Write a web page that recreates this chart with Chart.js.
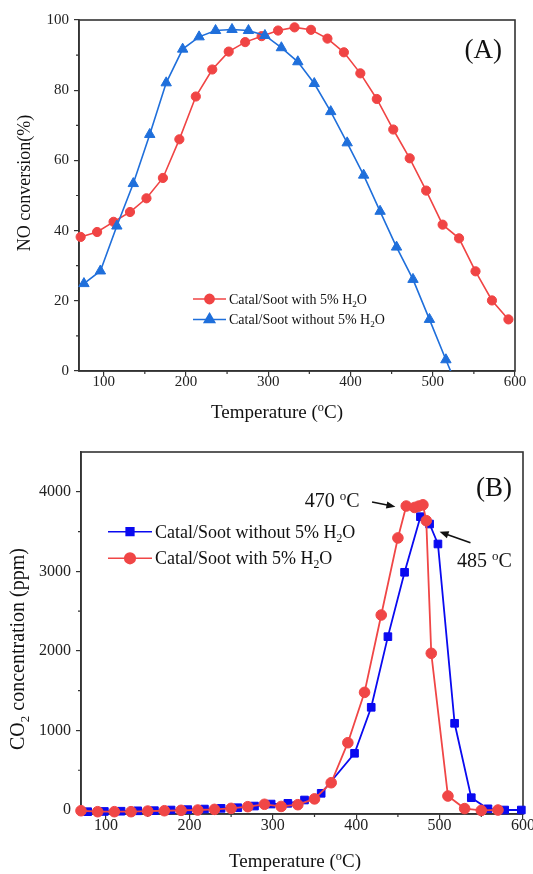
<!DOCTYPE html>
<html><head><meta charset="utf-8">
<script src="https://cdn.jsdelivr.net/npm/chart.js@4/dist/chart.umd.min.js"></script>
<style>
html,body{margin:0;padding:0;background:#fff;}
#wrap{position:relative;width:533px;height:874px;overflow:hidden;}
canvas{display:block;position:absolute;left:0;}
</style></head><body>
<div id="wrap">
<canvas id="cA" width="533" height="437" style="top:0"></canvas>
<canvas id="cB" width="533" height="437" style="top:437px"></canvas>
</div>
<script>
// ---------- DATA (A): NO conversion ----------
const tempWithA    = [72,92,112,132,152,172,192,212,232,252,272,292,312,332,352,372,392,412,432,452,472,492,512,532,552,572,592];
const convWithA    = [38.2,39.6,42.5,45.3,49.2,55.0,66.0,78.2,85.9,91.0,93.7,95.4,97.0,97.9,97.2,94.7,90.8,84.8,77.5,68.8,60.6,51.4,41.7,37.8,28.4,20.1,14.7];
const tempWithoutA = [76,96,116,136,156,176,196,216,236,256,276,296,316,336,356,376,396,416,436,456,476,496,516,536];
const convWithoutA = [24.9,28.5,41.3,53.4,67.4,82.1,91.7,95.2,97.0,97.3,97.0,95.6,92.1,88.1,81.9,73.9,65.0,55.8,45.5,35.3,26.1,14.7,3.2,-8];
const xTicksA = [100,200,300,400,500,600];
const xMinorA = [150,250,350,450,550];
const yTicksA = [0,20,40,60,80,100];
const yMinorA = [10,30,50,70,90];

// ---------- DATA (B): CO2 concentration ----------
const tempWithB    = [70,90,110,130,150,170,190,210,230,250,270,290,310,330,350,370,390,410,430,450,460,470,475,480,484,490,510,530,550,570];
const co2WithB     = [-9,-21,-21,-21,-13,-9,-4,0,8,21,42,72,45,67,140,343,846,1479,2451,3420,3821,3803,3820,3836,3637,1970,176,18,-5,0];
const tempWithoutB = [78,98,118,138,158,178,198,218,238,258,278,298,318,338,358,398,418,438,458,477,488,498,518,538,558,578,598];
const co2WithoutB  = [-21,-18,-15,-10,-8,0,5,12,21,29,50,75,84,126,210,713,1291,2179,2988,3687,3595,3344,1090,155,15,0,0];
const xTicksB = [100,200,300,400,500,600];
const xMinorB = [150,250,350,450,550];
const yTicksB = [0,1000,2000,3000,4000];
const yMinorB = [500,1500,2500,3500];

// annotation anchors (data units)
const peakNotes = [
  {text:'470', tx:404, ty:3888, align:'right', from:[419,3872], to:[447,3812]},
  {text:'485', tx:521, ty:3134, align:'left',  from:[537,3360], to:[500,3498]}
];

// ---------- helpers ----------
const SERIF = '"Liberation Serif","Times New Roman",Times,serif';
const AX = '#333';
Chart.defaults.font.family = SERIF;

function richWidth(ctx, parts, size){
  let w = 0;
  for (const p of parts){ ctx.font = ((p.sup||p.sub)? size*0.65 : size) + 'px ' + SERIF; w += ctx.measureText(p.t).width; }
  return w;
}
function drawRich(ctx, parts, x, y, size, align, color){
  ctx.save();
  ctx.fillStyle = color || '#111';
  ctx.textBaseline = 'alphabetic';
  ctx.textAlign = 'left';
  const w = richWidth(ctx, parts, size);
  let cx = align==='center' ? x - w/2 : (align==='right' ? x - w : x);
  for (const p of parts){
    const fs = (p.sup||p.sub) ? size*0.65 : size;
    ctx.font = fs + 'px ' + SERIF;
    const dy = p.sup ? -size*0.38 : (p.sub ? size*0.22 : 0);
    ctx.fillText(p.t, cx, y + dy);
    cx += ctx.measureText(p.t).width;
  }
  ctx.restore();
}
function drawRotated(ctx, parts, cx, cy, size){
  ctx.save(); ctx.translate(cx, cy); ctx.rotate(-Math.PI/2);
  drawRich(ctx, parts, 0, size*0.33, size, 'center');
  ctx.restore();
}
function legendRow(ctx, x0, x1, y, color, style, radius, parts, size){
  ctx.save();
  ctx.strokeStyle = color; ctx.lineWidth = 1.6;
  ctx.beginPath(); ctx.moveTo(x0, y); ctx.lineTo(x1, y); ctx.stroke();
  ctx.fillStyle = color; ctx.strokeStyle = color;
  Chart.helpers.drawPoint(ctx, {pointStyle:style, radius:radius, rotation:0, borderWidth:1}, (x0+x1)/2, y);
  ctx.restore();
  drawRich(ctx, parts, x1 + 3, y + size*0.33, size, 'left');
}
function frameAndMinor(chart, xMinor, yMinor){
  const {ctx, chartArea:a, scales} = chart;
  ctx.save();
  ctx.strokeStyle = AX; ctx.lineWidth = 1.6;
  ctx.strokeRect(a.left, a.top, a.right - a.left, a.bottom - a.top);
  ctx.lineWidth = 1.2;
  ctx.beginPath();
  for (const v of xMinor){ const px = scales.x.getPixelForValue(v); ctx.moveTo(px, a.bottom); ctx.lineTo(px, a.bottom + 3); }
  for (const v of yMinor){ const py = scales.y.getPixelForValue(v); ctx.moveTo(a.left, py); ctx.lineTo(a.left - 3, py); }
  ctx.stroke();
  ctx.restore();
}
function axisScales(o){
  return {
    x:{type:'linear', min:o.xMin, max:o.xMax,
       afterBuildTicks:s=>{ s.ticks = o.xTicks.map(v=>({value:v})); },
       afterFit:s=>{ s.height = o.xH; s.paddingLeft = 0; s.paddingRight = 0; },
       grid:{display:true, drawOnChartArea:false, drawTicks:true, tickLength:5, color:AX, lineWidth:1.2},
       border:{display:true, color:AX, width:1.6},
       ticks:{font:{family:SERIF, size:o.tick}, color:'#222', padding:o.xPad, maxRotation:0, autoSkip:false, callback:v=>String(v)}
    },
    y:{type:'linear', min:o.yMin, max:o.yMax,
       afterBuildTicks:s=>{ s.ticks = o.yTicks.map(v=>({value:v})); },
       afterFit:s=>{ s.width = o.yW; s.paddingTop = 0; s.paddingBottom = 0; },
       grid:{display:true, drawOnChartArea:false, drawTicks:true, tickLength:5, color:AX, lineWidth:1.2},
       border:{display:true, color:AX, width:1.6},
       ticks:{font:{family:SERIF, size:o.tick}, color:'#222', padding:5, autoSkip:false, callback:v=>String(v)}
    }
  };
}
const pts = (xs, ys) => xs.map((x,i)=>({x:x, y:ys[i]}));
const TEMP = [{t:'Temperature ('},{t:'o',sup:true},{t:'C)'}];

// ---------- Chart A ----------
const redA = '#f04444', blueA = '#1f6fdb';
new Chart(document.getElementById('cA'), {
  type:'line',
  data:{datasets:[
    {label:'Catal/Soot without 5% H2O', data:pts(tempWithoutA, convWithoutA), borderColor:blueA, backgroundColor:blueA,
     pointStyle:'triangle', pointRadius:6, pointBorderWidth:1, borderWidth:1.6, clip:{left:false, top:false, right:false, bottom:0}},
    {label:'Catal/Soot with 5% H2O', data:pts(tempWithA, convWithA), borderColor:redA, backgroundColor:redA,
     pointStyle:'circle', pointRadius:4.6, pointBorderWidth:1, borderWidth:1.6, clip:false}
  ]},
  options:{
    responsive:false, animation:false, events:[],
    layout:{padding:{left:0, top:20, right:18, bottom:0}},
    plugins:{legend:{display:false}, tooltip:{enabled:false}},
    scales:axisScales({xMin:70, xMax:600, xTicks:xTicksA, yMin:0, yMax:100, yTicks:yTicksA, xH:66, yW:79, tick:15, xPad:-3})
  },
  plugins:[{
    id:'decoA',
    beforeDatasetsDraw(chart){ frameAndMinor(chart, xMinorA, yMinorA); },
    afterDraw(chart){
      const ctx = chart.ctx, a = chart.chartArea;
      drawRich(ctx, TEMP, 277, 418, 19, 'center');
      drawRotated(ctx, [{t:'NO conversion(%)'}], 24, 183, 18);
      drawRich(ctx, [{t:'(A)'}], a.right - 13, 58, 27, 'right');
      legendRow(ctx, 193, 226, 299, redA, 'circle', 4.6,
        [{t:'Catal/Soot with 5% H'},{t:'2',sub:true},{t:'O'}], 14);
      legendRow(ctx, 193, 226, 319.5, blueA, 'triangle', 6,
        [{t:'Catal/Soot without 5% H'},{t:'2',sub:true},{t:'O'}], 14);
    }
  }]
});

// ---------- Chart B ----------
const redB = '#f04646', blueB = '#0a0af0';
new Chart(document.getElementById('cB'), {
  type:'line',
  data:{datasets:[
    {label:'Catal/Soot with 5% H2O', data:pts(tempWithB, co2WithB), borderColor:redB, backgroundColor:redB,
     pointStyle:'circle', pointRadius:5.3, pointBorderWidth:1, borderWidth:1.8, clip:false},
    {label:'Catal/Soot without 5% H2O', data:pts(tempWithoutB, co2WithoutB), borderColor:blueB, backgroundColor:blueB,
     pointStyle:'rect', pointRadius:5.4, pointBorderWidth:1, borderWidth:1.8, clip:false}
  ]},
  options:{
    responsive:false, animation:false, events:[],
    layout:{padding:{left:0, top:15, right:10, bottom:0}},
    plugins:{legend:{display:false}, tooltip:{enabled:false}},
    scales:axisScales({xMin:70, xMax:600, xTicks:xTicksB, yMin:-50, yMax:4500, yTicks:yTicksB, xH:60, yW:81, tick:16, xPad:-3})
  },
  plugins:[{
    id:'decoB',
    beforeDatasetsDraw(chart){ frameAndMinor(chart, xMinorB, yMinorB); },
    afterDraw(chart){
      const ctx = chart.ctx, a = chart.chartArea, sx = chart.scales.x, sy = chart.scales.y;
      drawRich(ctx, TEMP, 295, 430, 19, 'center');
      drawRotated(ctx, [{t:'CO'},{t:'2',sub:true},{t:' concentration (ppm)'}], 17.5, 212, 20);
      drawRich(ctx, [{t:'(B)'}], a.right - 11, 59, 27, 'right');
      legendRow(ctx, 108, 152, 94.7, blueB, 'rect', 5.4,
        [{t:'Catal/Soot without 5% H'},{t:'2',sub:true},{t:'O'}], 18);
      legendRow(ctx, 108, 152, 121.3, redB, 'circle', 5.3,
        [{t:'Catal/Soot with 5% H'},{t:'2',sub:true},{t:'O'}], 18);
      // peak annotations
      for (const n of peakNotes){
        drawRich(ctx, [{t:n.text + ' '},{t:'o',sup:true},{t:'C'}], sx.getPixelForValue(n.tx), sy.getPixelForValue(n.ty) + 20*0.33, 20, n.align);
        const x0 = sx.getPixelForValue(n.from[0]), y0 = sy.getPixelForValue(n.from[1]);
        const x1 = sx.getPixelForValue(n.to[0]),   y1 = sy.getPixelForValue(n.to[1]);
        const ang = Math.atan2(y1 - y0, x1 - x0), L = 9, W = 3.6;
        ctx.save();
        ctx.strokeStyle = '#111'; ctx.fillStyle = '#111'; ctx.lineWidth = 1.6;
        ctx.beginPath(); ctx.moveTo(x0, y0);
        ctx.lineTo(x1 - Math.cos(ang)*L*0.8, y1 - Math.sin(ang)*L*0.8); ctx.stroke();
        ctx.beginPath();
        ctx.moveTo(x1, y1);
        ctx.lineTo(x1 - Math.cos(ang)*L - Math.sin(ang)*W, y1 - Math.sin(ang)*L + Math.cos(ang)*W);
        ctx.lineTo(x1 - Math.cos(ang)*L + Math.sin(ang)*W, y1 - Math.sin(ang)*L - Math.cos(ang)*W);
        ctx.closePath(); ctx.fill();
        ctx.restore();
      }
    }
  }]
});
</script>
</body></html>
